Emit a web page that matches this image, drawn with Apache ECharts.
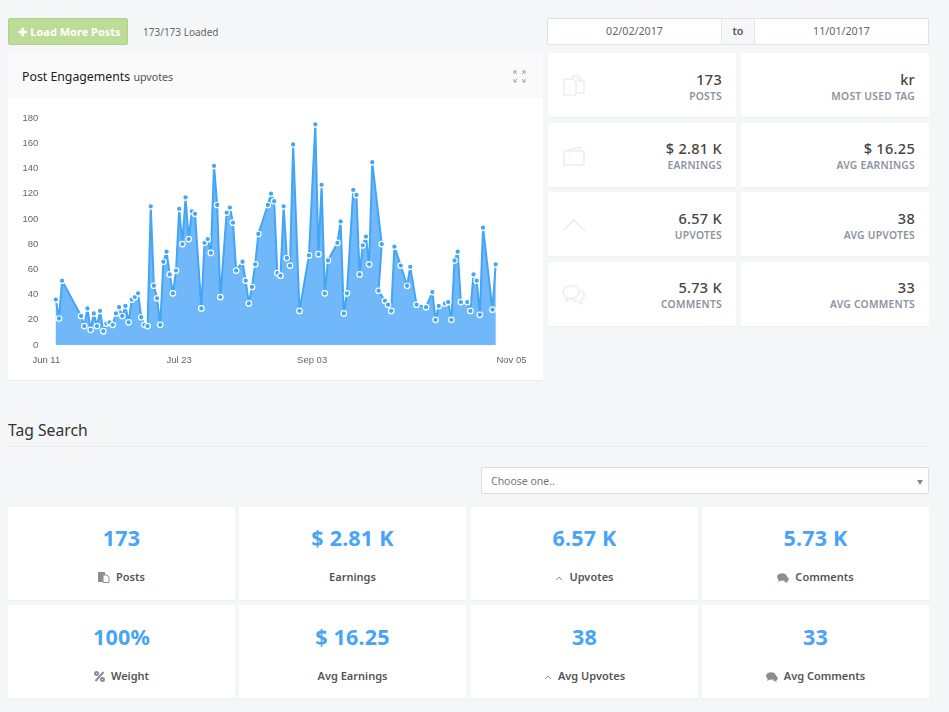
<!DOCTYPE html>
<html>
<head>
<meta charset="utf-8">
<title>Post Engagements</title>
<script src="https://cdn.jsdelivr.net/npm/echarts@6/dist/echarts.min.js"></script>
<style>
    html, body { margin: 0; padding: 0; background: #f4f6f8; }
    body { width: 949px; height: 712px; position: relative; overflow: hidden; font-family: "Noto Sans", sans-serif; color: #555; }
    .abs { position: absolute; box-sizing: border-box; }
    .btn { left: 8px; top: 18px; width: 120px; height: 27px; background: #bcdc98; border: 1px solid #aed189; border-radius: 2px; color: #fff; font-weight: 700; font-size: 11px; line-height: 25px; text-align: center; padding-left: 3px; }
    .loaded { left: 143px; top: 25px; font-size: 10px; line-height: 14px; color: #666; }
    .panel-head { left: 8px; top: 53px; width: 535px; height: 45px; background: #fafafa; }
    .panel-title { left: 22px; top: 67px; font-size: 12.3px; line-height: 20px; color: #222; }
    .panel-title small { font-size: 10.7px; color: #555; }
    #main { left: 8px; top: 98px; width: 535px; height: 283px; border-bottom: 1px solid #edeff1; }
    .dates { left: 547px; top: 18px; width: 382px; height: 27px; background: #fff; border: 1px solid #dde0e6; border-radius: 2px; display: flex; font-size: 10.7px; line-height: 25px; text-align: center; color: #666; }
    .dates div { flex: 1; }
    .dates .to { flex: none; width: 32px; background: #f6f7f8; border-left: 1px solid #e3e5e9; border-right: 1px solid #e3e5e9; font-weight: 600; color: #555; }
    .stat { background: #fff; width: 188px; height: 65px; border-bottom: 1px solid #eef0f2; text-align: right; padding-right: 14px; }
    .stat .v { font-size: 14.5px; line-height: 20px; font-weight: 500; letter-spacing: .3px; color: #444; }
    .stat .l { font-size: 10.3px; line-height: 14px; font-weight: 600; letter-spacing: .25px; color: #8b93a0; }
    .stat svg { position: absolute; left: 14px; top: 20px; }
    .tag-title { left: 8px; top: 419px; font-size: 15.7px; line-height: 22px; color: #333; }
    .tag-line { left: 8px; top: 446px; width: 921px; height: 1px; background: #e7e9ec; }
    .select { left: 481px; top: 467px; width: 448px; height: 27px; background: #fff; border: 1px solid #d9dce2; border-radius: 2px; font-size: 10.5px; line-height: 27px; color: #777; padding-left: 9px; }
    .select i { position: absolute; right: 5px; top: 12px; border-left: 3px solid transparent; border-right: 3px solid transparent; border-top: 5px solid #888; }
    .tile { background: #fff; width: 227px; height: 94px; border-bottom: 1px solid #eef0f2; text-align: center; }
    .tile .v { font-size: 21.5px; line-height: 28px; font-weight: 700; letter-spacing: .2px; color: #48a4f7; }
    .tile.top .v { margin-top: 17px; }
    .tile.low .v { margin-top: 18px; }
    .tile .l { margin-top: 16px; font-size: 11px; line-height: 18px; font-weight: 600; color: #555; }
    .tile .l svg { vertical-align: -2px; margin-right: 6px; }
</style>
</head>
<body>
<div class="abs btn">✚ Load More Posts</div>
<div class="abs loaded">173/173 Loaded</div>
<div class="abs panel-head"></div>
<div class="abs panel-title">Post Engagements <small>upvotes</small></div>
<svg class="abs" style="left:513px;top:70px" width="13" height="13" viewBox="0 0 13 13" fill="none" stroke="#9aa3ad" stroke-width="1">
    <path d="M1 4V1h3M9 1h3v3M12 9v3H9M4 12H1V9M1 1l3 3M12 1L9 4M12 12L9 9M1 12l3-3"/>
</svg>
<div class="abs" id="main"></div>
<div class="abs dates"><div>02/02/2017</div><div class="to">to</div><div>11/01/2017</div></div>
<div id="stats"></div>
<div class="abs tag-title">Tag Search</div>
<div class="abs tag-line"></div>
<div class="abs select">Choose one..<i></i></div>
<div id="tiles"></div>

<script type="text/javascript">
    // chart values (slot = position along the x axis)
    var postSlots = [0,1,2,8,9,10,11,12,13,14,15,16,17,18,19,20,21,22,23,24,25,26,27,28,29,30,31,32,33,34,35,36,37,38,39,40,41,42,43,44,46,47,48,49,50,51,52,54,55,56,57,59,60,61,62,63,64,67,68,69,70,71,72,73,74,75,77,80,82,83,84,85,86,89,90,91,92,94,95,96,97,98,99,100,103,102,104,105,106,107,109,111,112,114,117,119,120,121,123,124,125,126,127,128,130,131,132,133,134,135,138,139];
    var upvotes = [36,21,51,23,15,29,12,25,15,27,11,17,18,16,25,30,23,31,18,36,38,41,22,16,15,110,47,37,16,66,74,56,41,59,108,80,117,84,106,104,29,81,84,73,142,111,38,105,109,97,59,66,51,33,46,64,88,111,120,114,57,55,110,69,63,159,27,71,175,72,127,41,67,81,98,25,41,123,119,56,79,86,64,145,80,43,35,32,27,78,63,47,62,32,30,42,20,31,33,34,20,67,74,34,34,27,56,51,24,93,28,64];
    var xTickSlots = [-3,39,81,144];
    var xTickLabels = ['Jun 11','Jul 23','Sep 03','Nov 05'];

    // dashboard numbers
    var statValues = ['173','kr','$ 2.81 K','$ 16.25','6.57 K','38','5.73 K','33'];
    var statLabels = ['POSTS','MOST USED TAG','EARNINGS','AVG EARNINGS','UPVOTES','AVG UPVOTES','COMMENTS','AVG COMMENTS'];
    var tileValues = ['173','$ 2.81 K','6.57 K','5.73 K','100%','$ 16.25','38','33'];
    var tileLabels = ['Posts','Earnings','Upvotes','Comments','Weight','Avg Earnings','Avg Upvotes','Avg Comments'];
    var tileIcons = ['posts','','up','chat','pct','','up','chat'];

    var statIcons = {
        posts: '<svg width="24" height="24" viewBox="0 0 24 24" fill="none" stroke="#eceef0" stroke-width="1.6"><path d="M2 6h9l3 3v13H2zM11 6V3h5l6 5v12h-8M16 3v5h6"/></svg>',
        wallet: '<svg width="24" height="24" viewBox="0 0 24 24" fill="none" stroke="#eceef0" stroke-width="1.6"><path d="M3 8l15-4 2 4M2 8h20v14H2zM6 15h1"/></svg>',
        up: '<svg width="24" height="24" viewBox="0 0 24 24" fill="none" stroke="#eceef0" stroke-width="1.6"><path d="M1 19L12 8l11 11"/></svg>',
        chat: '<svg width="24" height="24" viewBox="0 0 24 24" fill="none" stroke="#eceef0" stroke-width="1.6"><ellipse cx="9" cy="10" rx="8" ry="6.5"/><path d="M5 15l-1 4 5-3M18 8c6 3 5 8 1 10l1 4-6-3c-2 0-3-1-4-2"/></svg>'
    };
    var tileSvg = {
        posts: '<svg width="12" height="12" viewBox="0 0 12 12"><path fill="#8a8f96" d="M0 1h7v10H0z"/><path fill="#fff" stroke="#8a8f96" d="M5 4h4l2 2v5.500H5z"/></svg>',
        up: '<svg width="8" height="9" viewBox="0 0 8 9" fill="none" stroke="#8a8f96"><path d="M1 6l3-3 3 3"/></svg>',
        chat: '<svg width="12" height="10" viewBox="0 0 12 10"><ellipse cx="5" cy="4" rx="5" ry="3.800" fill="#8a8f96"/><path fill="#8a8f96" d="M2 6L1 9l4-2zM9 3c4 2 3 5 1 5.500L11 10 7 8.500z"/></svg>',
        pct: '<svg width="11" height="11" viewBox="0 0 11 11" fill="none" stroke="#8a8f96" stroke-width="2"><path d="M9.500 1L1.500 10"/><circle cx="2.500" cy="2.500" r="1.500"/><circle cx="8.500" cy="8.500" r="1.500"/></svg>'
    };

    var statIconNames = ['posts','','wallet','','up','','chat',''];
    var statCols = [548,741], statRows = [53,123,192,262], statPad = [16,15,16,15];
    var html = '';
    statValues.forEach(function (v, i) {
        var row = Math.floor(i / 2);
        html += '<div class="abs stat" style="left:' + statCols[i % 2] + 'px;top:' + statRows[row] + 'px">'
            + (statIconNames[i] ? statIcons[statIconNames[i]] : '')
            + '<div class="v" style="margin-top:' + statPad[row] + 'px">' + v + '</div><div class="l">' + statLabels[i] + '</div></div>';
    });
    document.getElementById('stats').innerHTML = html;

    var tileCols = [8,239,471,702], tileRows = [507,605];
    html = '';
    tileValues.forEach(function (v, i) {
        var left = tileCols[i % 4], top = tileRows[Math.floor(i / 4)];
        html += '<div class="abs tile ' + (i < 4 ? 'top' : 'low') + '" style="left:' + left + 'px;top:' + top + 'px">'
            + '<div class="v">' + v + '</div><div class="l">'
            + (tileIcons[i] ? tileSvg[tileIcons[i]] : '') + tileLabels[i] + '</div></div>';
    });
    document.getElementById('tiles').innerHTML = html;

    var myChart = echarts.init(document.getElementById('main'));
    var seriesData = postSlots.map(function (s, i) { return [s, upvotes[i]]; });
    var option = {
        animation: false,
        backgroundColor: '#fff',
        grid: { left: 38.3, right: 31.5, top: 20, height: 227 },
        xAxis: {
            type: 'value',
            min: -3,
            max: 144,
            splitLine: { show: false },
            axisLine: { show: false },
            axisTick: { show: false },
            axisLabel: {
                customValues: xTickSlots,
                formatter: function (val) { return xTickLabels[xTickSlots.indexOf(val)]; },
                color: '#666',
                fontFamily: 'Liberation Sans',
                fontSize: 9.5,
                margin: 10
            }
        },
        yAxis: {
            type: 'value',
            min: 0,
            max: 180,
            interval: 20,
            splitLine: { show: false },
            axisLine: { show: false },
            axisTick: { show: false },
            axisLabel: { color: '#666', fontFamily: 'Liberation Sans', fontSize: 9.5, margin: 8 }
        },
        series: [{
            type: 'line',
            data: seriesData,
            symbol: 'circle',
            symbolSize: 5.5,
            showAllSymbols: true,
            lineStyle: { color: '#42a5f5', width: 2 },
            itemStyle: { color: '#42a5f5', borderColor: '#fff', borderWidth: 1.2 },
            areaStyle: { color: '#70b8f9', opacity: 1 }
        }]
    };
    myChart.setOption(option);
</script>
</body>
</html>
